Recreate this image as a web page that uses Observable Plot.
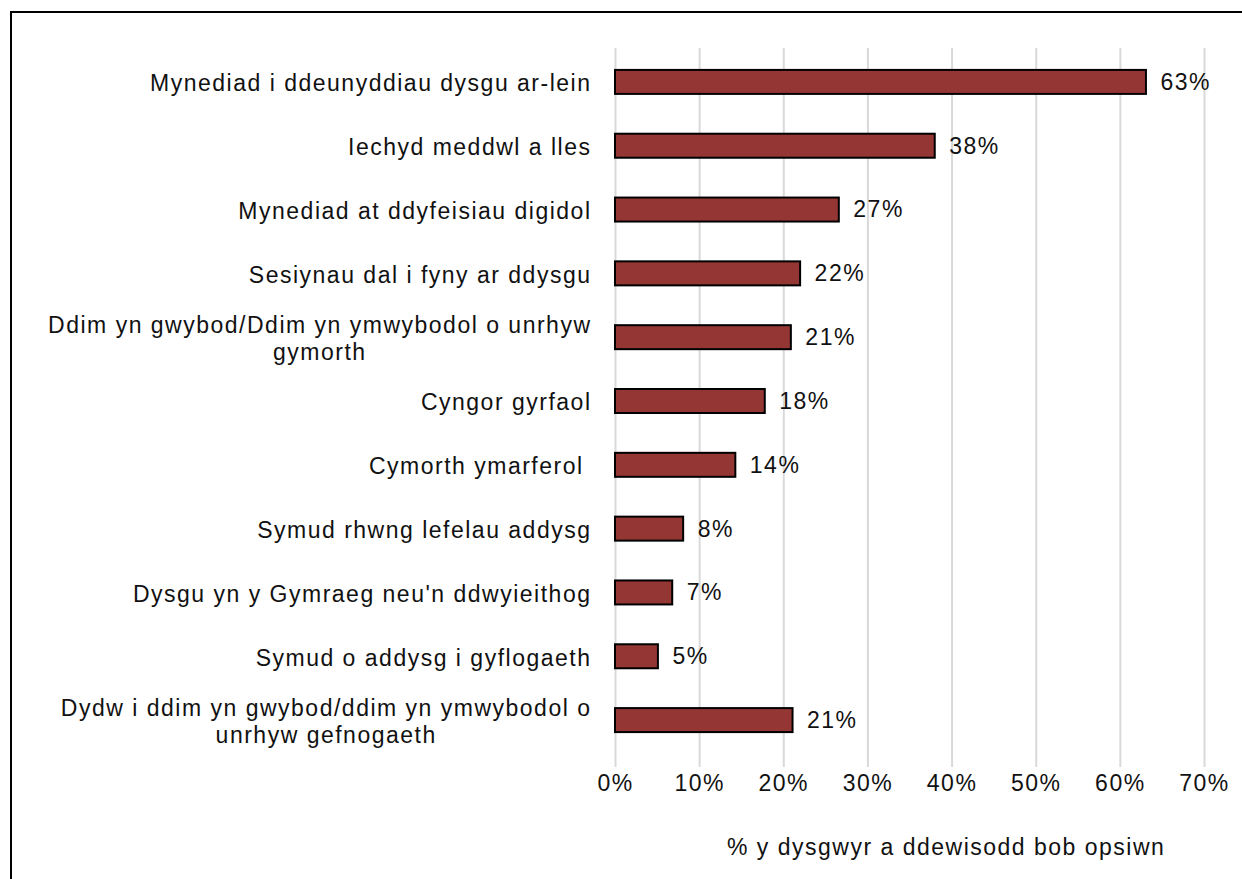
<!DOCTYPE html>
<html><head><meta charset="utf-8">
<script src="https://cdn.jsdelivr.net/npm/d3@7"></script>
<script src="https://cdn.jsdelivr.net/npm/@observablehq/plot@0.6"></script>
<style>
html,body{margin:0;padding:0;background:#fff;overflow:hidden}
body{width:1242px;height:879px;position:relative;font-family:"Liberation Sans",Arial,sans-serif}
#frame{position:absolute;left:10px;top:11px;width:1300px;height:1000px;border-left:2px solid #000;border-top:2px solid #000;pointer-events:none}
#chart{position:absolute;left:0;top:0}
#chart svg text{letter-spacing:1.5px;white-space:pre}
#xtitle{position:absolute;left:727px;top:834px;font-size:23px;letter-spacing:1.5px;color:#111;white-space:nowrap}
</style></head><body>
<div id="chart"></div>
<div id="xtitle"></div>
<div id="frame"></div>
<script>
const categories = [
  "Mynediad i ddeunyddiau dysgu ar-lein",
  "Iechyd meddwl a lles",
  "Mynediad at ddyfeisiau digidol",
  "Sesiynau dal i fyny ar ddysgu",
  "Ddim yn gwybod/Ddim yn ymwybodol o unrhyw\ngymorth",
  "Cyngor gyrfaol",
  "Cymorth ymarferol ",
  "Symud rhwng lefelau addysg",
  "Dysgu yn y Gymraeg neu'n ddwyieithog",
  "Symud o addysg i gyflogaeth",
  "Dydw i ddim yn gwybod/ddim yn ymwybodol o\nunrhyw gefnogaeth"
];
const values = [63.1, 38.0, 26.6, 22.0, 20.9, 17.8, 14.3, 8.1, 6.8, 5.1, 21.1];
const xTicks = [0, 10, 20, 30, 40, 50, 60, 70];
const xTitle = "% y dysgwyr a ddewisodd bob opsiwn";

const data = categories.map((c, i) => ({category: c, value: values[i]}));
const fmt = v => Math.round(v) + "%";

const chart = Plot.plot({
  width: 1242, height: 879,
  marginLeft: 615, marginRight: 38, marginTop: 48, marginBottom: 112,
  style: {fontFamily: '"Liberation Sans", Arial, sans-serif', fontSize: "23px", color: "#111", background: "#fff", overflow: "visible"},
  x: {domain: [0, 70], ticks: xTicks, tickFormat: d => d + "%"},
  y: {domain: categories, paddingInner: 0.624, paddingOuter: 0.312, insetTop: 2, insetBottom: 15, round: false},
  marks: [
    Plot.gridX(xTicks, {stroke: "#d9d9d9", strokeOpacity: 1, strokeWidth: 2}),
    Plot.barX(data, {x: "value", y: "category", fill: "#943634", stroke: "#000", strokeWidth: 2}),
    Plot.text(data, {x: "value", y: "category", text: d => fmt(d.value), textAnchor: "start", dx: 14, fill: "#111"}),
    Plot.axisX(xTicks, {tickSize: 0, tickPadding: 7, label: null, tickFormat: d => d + "%"}),
    Plot.axisY({tickSize: 0, tickPadding: 24, label: null, lineHeight: 1.2})
  ]
});
document.getElementById("chart").appendChild(chart);
document.getElementById("xtitle").textContent = xTitle;

// center multi-line category labels relative to each other, keeping the block right-aligned
chart.querySelectorAll('g[aria-label="y-axis tick label"] text').forEach(t => {
  const spans = t.querySelectorAll("tspan");
  if (spans.length > 1) {
    const w = t.getBBox().width;
    t.setAttribute("text-anchor", "middle");
    const tr = t.getAttribute("transform") || "";
    t.setAttribute("transform", tr + ` translate(${-w / 2},0)`);
  }
});
</script></body></html>
